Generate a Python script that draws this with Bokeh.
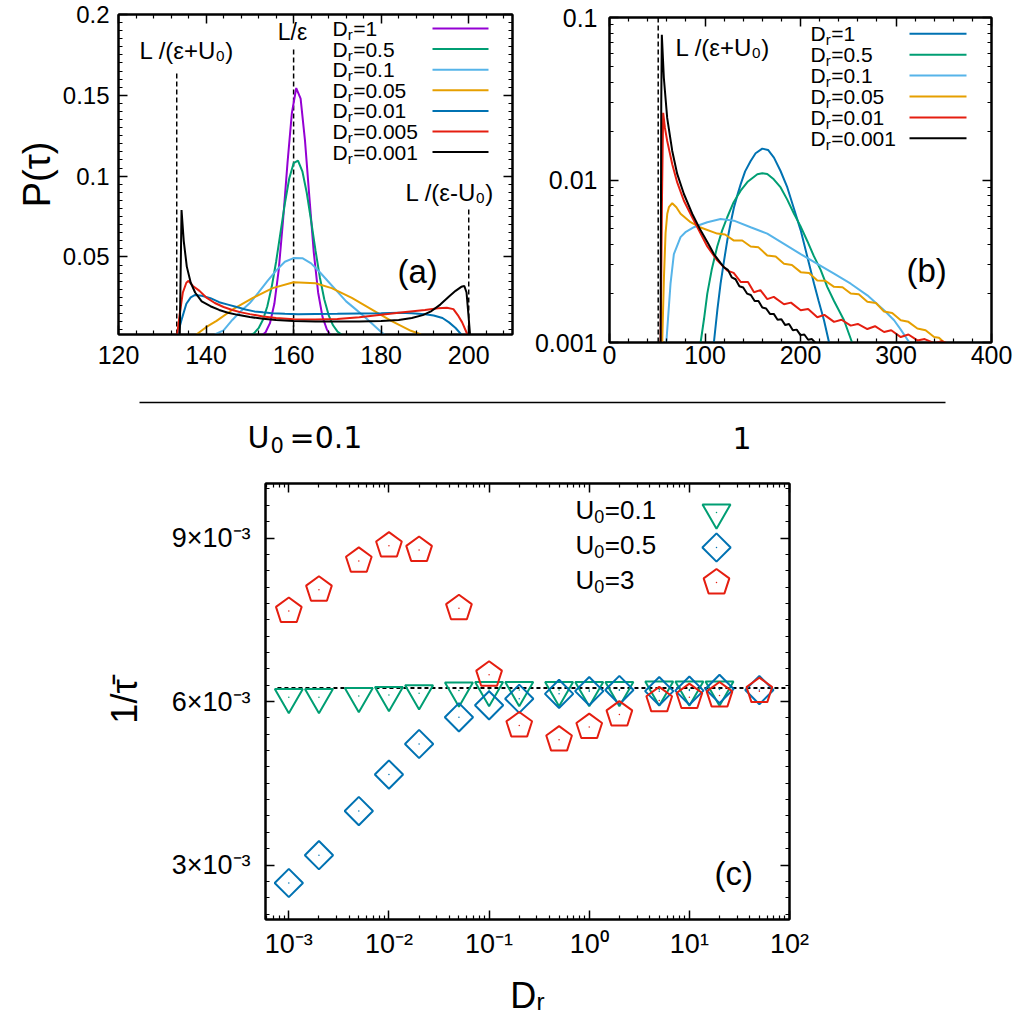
import numpy as np
from bokeh.plotting import figure
from bokeh.models import (FixedTicker, CustomJSTickFormatter, LinearAxis, LogAxis,
                          Label, Span, Range1d)
from bokeh.layouts import column, row
from bokeh.embed import file_html
from bokeh.resources import INLINE

FONT = "Liberation Sans"

# ---------------- panel (a): U0 = 0.1, P(tau) on linear axes ----------------
a_dr_text = ["1", "0.5", "0.1", "0.05", "0.01", "0.005", "0.001"]
a_colors = ["#9400d3", "#009e73", "#56b4e9", "#e69f00", "#0072b2", "#e51e10", "#000000"]

a_tau_1 = [152.6, 153.6, 154.6, 155.6, 156.6, 157.6, 158.6, 159.6, 160.6, 161.6, 162.6,
           163.6, 164.6, 165.6, 166.6, 167.6, 168.4]
a_p_1 = [0.0011, 0.0034, 0.009, 0.021, 0.042, 0.073, 0.108, 0.139, 0.1545, 0.148, 0.122,
         0.087, 0.053, 0.028, 0.0129, 0.0051, 0.0017]

a_tau_05 = [150, 151, 152, 153, 154, 155, 156, 157, 158, 159, 160, 161, 162, 163, 164,
            165, 166, 167, 168, 169, 170, 171]
a_p_05 = [0.0013, 0.0029, 0.0059, 0.0111, 0.0195, 0.0315, 0.047, 0.065, 0.083, 0.0985,
          0.108, 0.1096, 0.103, 0.0897, 0.0723, 0.054, 0.0373, 0.0238, 0.014, 0.0077,
          0.0039, 0.0018]

a_tau_01 = [142, 144, 146, 148, 150, 152, 154, 156, 158, 160, 162, 164, 166, 168, 170,
            172, 174, 176, 178, 180, 181]
a_p_01 = [0.002, 0.0045, 0.011, 0.0165, 0.0215, 0.028, 0.035, 0.0415, 0.047, 0.0493,
          0.0492, 0.046, 0.0405, 0.0345, 0.0285, 0.0225, 0.018, 0.0135, 0.0085, 0.0035,
          0.0015]

a_tau_005 = [137.8, 140, 142.4, 146.1, 150.7, 155.2, 160, 165, 168.7, 173.3, 177.8,
             182.3, 186.8, 189.1]
a_p_005 = [0.002, 0.0065, 0.0104, 0.0175, 0.0246, 0.0307, 0.0343, 0.0337, 0.0307,
           0.0246, 0.0175, 0.0104, 0.0043, 0.002]

a_tau_001 = [133.5, 134.5, 135.5, 136.5, 137.5, 139, 141, 143, 145, 147, 149, 151, 153,
             155, 158, 161, 165, 170, 175, 180, 184, 187, 190, 192, 194, 195.5, 197, 198.3]
a_p_001 = [0.002, 0.012, 0.021, 0.025, 0.0265, 0.026, 0.0245, 0.022, 0.0205, 0.019,
           0.0175, 0.0163, 0.0157, 0.0152, 0.0148, 0.0146, 0.0147, 0.0148, 0.015, 0.0152,
           0.0154, 0.0152, 0.0145, 0.0138, 0.0122, 0.0095, 0.006, 0.002]

a_tau_0005 = [133.4, 134, 134.7, 135.5, 136, 137, 138.5, 140, 142, 144, 146, 148, 150,
              153, 156, 160, 165, 170, 175, 180, 185, 190, 193, 195, 196.5, 197.5, 198.5,
              199.7]
a_p_0005 = [0.002, 0.015, 0.028, 0.034, 0.0352, 0.032, 0.029, 0.025, 0.0215, 0.019,
            0.0172, 0.0157, 0.0146, 0.0132, 0.0122, 0.0115, 0.0113, 0.0116, 0.0127,
            0.0142, 0.0157, 0.0172, 0.0182, 0.0185, 0.0177, 0.014, 0.0095, 0.002]

a_tau_0001 = [134.0, 134.4, 134.9, 135.6, 136.5, 137.5, 139, 141, 143, 145, 147.5, 150,
              153, 156, 160, 165, 170, 175, 180, 184, 187, 189.5, 191.5, 193.5, 195.5,
              197, 198.3, 199, 199.5, 200, 200.3]
a_p_0001 = [0.002, 0.079, 0.06, 0.044, 0.034, 0.028, 0.0225, 0.0195, 0.0172, 0.0155,
            0.014, 0.0128, 0.0117, 0.011, 0.0103, 0.0101, 0.01, 0.0101, 0.0104, 0.011,
            0.0122, 0.014, 0.0165, 0.0205, 0.0255, 0.029, 0.0315, 0.032, 0.028, 0.012,
            0.002]

a_series = [(a_tau_1, a_p_1), (a_tau_05, a_p_05), (a_tau_01, a_p_01),
            (a_tau_005, a_p_005), (a_tau_001, a_p_001), (a_tau_0005, a_p_0005),
            (a_tau_0001, a_p_0001)]

# characteristic times L/(eps+U0), L/eps, L/(eps-U0)
a_marks_tau = [133.3, 160.0, 200.0]

# ---------------- panel (b): U0 = 1, log P(tau) ----------------
b_dr_text = ["1", "0.5", "0.1", "0.05", "0.01", "0.001"]
b_colors = ["#0072b2", "#009e73", "#56b4e9", "#e69f00", "#e51e10", "#000000"]

b_tau_1 = [109.3, 113, 116.3, 120, 123.3, 127, 130.3, 134, 137.3, 142, 147.8, 153, 160,
           166, 172.2, 179, 186.2, 193, 200.2, 207, 214.2, 219, 224.6, 229.9]
b_p_1 = [0.001, 0.0016, 0.0023, 0.0032, 0.00424, 0.0055, 0.00678, 0.0081, 0.0094, 0.0113,
         0.0131, 0.0146, 0.0156, 0.0153, 0.01374, 0.0114, 0.009, 0.0067, 0.0049, 0.0034,
         0.0023, 0.0018, 0.00137, 0.001]

b_tau_05 = [95.4, 99, 102.4, 107, 112.8, 118, 123.3, 130, 137.3, 145, 154.8, 160, 165.2,
            172, 179.2, 186, 193.2, 200, 207.2, 214, 221.1, 228, 235.1, 245.6, 254]
b_p_05 = [0.001, 0.0014, 0.002, 0.0028, 0.0039, 0.0049, 0.0059, 0.0073, 0.0086, 0.0098,
          0.01086, 0.011, 0.0109, 0.0101, 0.009, 0.0076, 0.0062, 0.0052, 0.0042, 0.0034,
          0.0028, 0.0022, 0.0018, 0.00137, 0.001]

b_tau_01 = [59.5, 63.9, 67.4, 74.4, 80, 88.4, 95, 102.4, 116.3, 130.3, 147.8, 165.2,
            182.7, 200.2, 217.6, 235.1, 252.6, 270, 287.5, 298, 305, 314]
b_p_01 = [0.001, 0.0023, 0.0035, 0.00445, 0.0048, 0.00512, 0.0053, 0.0055, 0.00575,
          0.00562, 0.00512, 0.00468, 0.00405, 0.0035, 0.00305, 0.00265, 0.0023, 0.00195,
          0.00158, 0.00137, 0.0012, 0.001]

b_tau_005 = [55.2, 57, 58.7, 60.5, 62.2, 65.7, 70, 74.4, 84.9, 95.4, 112.8, 121, 130.3,
             139, 147.8, 156, 165.2, 174, 182.7, 191, 200.2, 209, 217.6, 226, 235.1, 244,
             252.6, 261, 270, 279, 287.5, 296, 305, 313, 322.4, 331, 339.9, 345, 350.4]
b_p_005 = [0.001, 0.0025, 0.0047, 0.0062, 0.0068, 0.0072, 0.0068, 0.0062, 0.0055, 0.0051,
           0.00468, 0.00462, 0.00424, 0.00424, 0.0039, 0.00385, 0.00343, 0.00338, 0.00305,
           0.003, 0.00271, 0.00268, 0.00241, 0.0024, 0.0022, 0.00219, 0.002, 0.00198,
           0.00178, 0.00175, 0.00155, 0.00152, 0.00137, 0.00134, 0.00122, 0.00119,
           0.00108, 0.00107, 0.001]

b_tau_001 = [53.5, 55, 56.2, 58, 60.4, 65.7, 70.9, 77.9, 86.6, 95.4, 102.4, 112.8, 123.3,
             130, 137.3, 145, 151.3, 158, 165.2, 172, 182.7, 190, 200.2, 208, 217.6, 225,
             235.1, 243, 252.6, 260, 270, 278, 287.5, 295, 305, 313, 322.4, 330, 340, 348,
             357]
b_p_001 = [0.001, 0.008, 0.0259, 0.021, 0.0174, 0.0125, 0.00966, 0.00745, 0.0059, 0.00468,
           0.0039, 0.0032, 0.00277, 0.00268, 0.00236, 0.00236, 0.00204, 0.0021, 0.00185,
           0.00191, 0.00172, 0.00176, 0.00158, 0.00161, 0.00143, 0.00148, 0.00134, 0.00138,
           0.00127, 0.0013, 0.00121, 0.00126, 0.00116, 0.00119, 0.00108, 0.00112, 0.00103,
           0.00105, 0.00099, 0.00102, 0.00097]

b_tau_0001 = [53.5, 54.2, 54.8, 56.9, 60.4, 65.7, 70.9, 77.9, 86.6, 95.4, 103, 109.3, 116,
              120, 124, 128, 132, 136, 140, 144, 148, 152, 156, 160, 164, 168, 172, 176,
              180, 184, 188, 192, 196, 200, 204, 208, 212, 216, 221]
b_p_0001 = [0.001, 0.03, 0.0783, 0.0426, 0.0241, 0.0151, 0.0109, 0.0082, 0.0062, 0.0049,
            0.0041, 0.0035, 0.0031, 0.0029, 0.0028, 0.00252, 0.00245, 0.00222, 0.00218,
            0.002, 0.00196, 0.0018, 0.0018, 0.00164, 0.00162, 0.0015, 0.0015, 0.00138,
            0.00139, 0.00128, 0.0013, 0.00119, 0.0012, 0.00111, 0.00112, 0.00104, 0.00105,
            0.00099, 0.00097]

b_series = [(b_tau_1, b_p_1), (b_tau_05, b_p_05), (b_tau_01, b_p_01),
            (b_tau_005, b_p_005), (b_tau_001, b_p_001), (b_tau_0001, b_p_0001)]

b_mark_tau = 51.0

# ---------------- panel (c): mean rate 1/tau vs D_r ----------------
c_dr = [0.001, 0.002, 0.005, 0.01, 0.02, 0.05, 0.1, 0.2, 0.5, 1, 2, 5, 10, 20, 50]
c_u01 = [6.08e-3, 6.08e-3, 6.10e-3, 6.12e-3, 6.15e-3, 6.20e-3, 6.21e-3, 6.21e-3,
         6.21e-3, 6.21e-3, 6.21e-3, 6.22e-3, 6.22e-3, 6.22e-3]
c_u05 = [2.67e-3, 3.18e-3, 3.99e-3, 4.66e-3, 5.22e-3, 5.71e-3, 5.93e-3, 6.05e-3,
         6.14e-3, 6.19e-3, 6.21e-3, 6.19e-3, 6.20e-3, 6.23e-3, 6.21e-3]
c_u3 = [7.66e-3, 8.05e-3, 8.58e-3, 8.86e-3, 8.78e-3, 7.71e-3, 6.49e-3, 5.56e-3,
        5.30e-3, 5.53e-3, 5.76e-3, 6.02e-3, 6.08e-3, 6.11e-3, 6.19e-3]
c_u0_text = ["0.1", "0.5", "3"]
c_colors = ["#009e73", "#0072b2", "#e51e10"]
c_ballistic_rate = 1.0 / 160.0
c_flat_dr = [7.7e-4, 100.0]


# ---------------- helpers ----------------
def make_fig(width, height, x_range, y_range, left, right, top, bottom,
             x_type="linear", y_type="linear"):
    p = figure(width=width, height=height, x_range=x_range, y_range=y_range,
               x_axis_type=x_type, y_axis_type=y_type,
               output_backend="svg", toolbar_location=None,
               min_border_left=left, min_border_right=right,
               min_border_top=top, min_border_bottom=bottom)
    if "frame_align" in p.properties():
        p.frame_align = False
    p.grid.visible = False
    p.outline_line_color = "black"
    p.outline_line_width = 2
    p.background_fill_color = "white"
    p.border_fill_color = "white"
    return p


def style_axis(ax, ticks, minor, code, standoff, font_size="25px", labels=True):
    ax.ticker = FixedTicker(ticks=ticks, minor_ticks=minor)
    ax.formatter = CustomJSTickFormatter(code=code if labels else "return '';")
    ax.axis_line_color = "black"
    ax.axis_line_width = 2
    ax.major_tick_in = 9
    ax.major_tick_out = 0
    ax.minor_tick_in = 4
    ax.minor_tick_out = 0
    ax.major_tick_line_color = "black"
    ax.major_tick_line_width = 1.5
    ax.minor_tick_line_color = "black"
    ax.minor_tick_line_width = 1.2
    ax.major_label_text_font = FONT
    ax.major_label_text_font_size = font_size if labels else "0px"
    ax.major_label_text_color = "black"
    ax.major_label_standoff = standoff if labels else 0
    ax.axis_label_text_font = FONT
    ax.axis_label_text_font_style = "normal"
    ax.axis_label_text_color = "black"


def add_mirrors(p, xcls, ycls, xt, xm, yt, ym):
    top = xcls()
    style_axis(top, xt, xm, "", 0, labels=False)
    p.add_layout(top, "above")
    right = ycls()
    style_axis(right, yt, ym, "", 0, labels=False)
    p.add_layout(right, "right")


def label(p, x, y, text, size, align="left", font=FONT):
    p.add_layout(Label(x=x, y=y, text=text, text_font=font, text_font_size=size,
                       text_align=align, text_baseline="middle", text_color="black"))


# advance widths (em) of the Liberation Sans glyphs used in subscripted labels
EM = {"D": 0.722, "U": 0.722, "r": 0.333, "0": 0.556}


def sub_label(p, fx, fy, x_px, y_px, head, sub, tail, size, sub_size, drop):
    """Write head, a lowered smaller sub and tail, laid out in frame pixels."""
    x1 = x_px + EM[head] * size
    x2 = x1 + EM[sub] * sub_size + 0.5
    label(p, fx(x_px), fy(y_px), head, f"{size}px")
    label(p, fx(x1), fy(y_px + drop), sub, f"{sub_size}px")
    label(p, fx(x2), fy(y_px), tail, f"{size}px")


PLAIN = "return tick.toString();"

# ---------------- panel (a) ----------------
A_L, A_T, A_W, A_H = 118, 14, 394, 320
A_X0, A_X1, A_Y0, A_Y1 = 120, 210, 0.002, 0.2
pa = make_fig(530, 380, Range1d(A_X0, A_X1), Range1d(A_Y0, A_Y1), A_L, 18, A_T, 46)


def ax_(px):
    return A_X0 + (px - A_L) * (A_X1 - A_X0) / A_W


def ay_(py):
    return A_Y0 + (A_T + A_H - py) * (A_Y1 - A_Y0) / A_H


a_xt = [120, 140, 160, 180, 200]
a_xm = [v for v in range(124, 211, 4) if v not in a_xt]
a_yt = [0.05, 0.1, 0.15, 0.2]
a_ym = [round(0.005 * k, 3) for k in range(1, 41) if k % 10]
style_axis(pa.xaxis[0], a_xt, a_xm, PLAIN, 11)
style_axis(pa.yaxis[0], a_yt, a_ym, PLAIN, 9, font_size="24px")
pa.yaxis[0].axis_label = "P(τ)"
pa.yaxis[0].axis_label_text_font_size = "38px"
pa.yaxis[0].axis_label_standoff = 2
add_mirrors(pa, LinearAxis, LinearAxis, a_xt, a_xm, a_yt, a_ym)

a_mark_tops = [70, 46, 209]
for t, top in zip(a_marks_tau, a_mark_tops):
    pa.segment(x0=t, y0=A_Y0, x1=t, y1=ay_(top), line_color="black",
               line_width=1.5, line_dash="5 3")

for (tau, prob), col in zip(a_series, a_colors):
    pa.line(tau, prob, line_color=col, line_width=2)

for i, (txt, col) in enumerate(zip(a_dr_text, a_colors)):
    yrow = 28 + 20.6 * i
    sub_label(pa, ax_, ay_, 332, yrow, "D", "r", "=" + txt, 21, 15, 6)
    pa.line([ax_(432), ax_(488)], [ay_(yrow), ay_(yrow)], line_color=col, line_width=2)

label(pa, ax_(139), ay_(50), "L /(ε+U₀)", "24px")
label(pa, ax_(292), ay_(31), "L/ε", "23px", align="center")
label(pa, ax_(405), ay_(192), "L /(ε-U₀)", "24px")
label(pa, ax_(397), ay_(271), "(a)", "33px")

# ---------------- panel (b) ----------------
B_OFF = 530
B_L, B_T, B_W, B_H = 609 - B_OFF, 17, 382, 325
B_X0, B_X1, B_Y0, B_Y1 = 0, 400, 0.001, 0.1
pb = make_fig(485, 380, Range1d(B_X0, B_X1), Range1d(B_Y0, B_Y1), B_L, 24, B_T, 38,
              y_type="log")


def bx_(px):
    return B_X0 + (px - 609) * (B_X1 - B_X0) / B_W


def by_(py):
    return 10 ** (np.log10(B_Y0) + (B_T + B_H - py) * 2.0 / B_H)


b_xt = [0, 100, 200, 300, 400]
b_xm = [v for v in range(20, 400, 20) if v % 100]
b_yt = [0.001, 0.01, 0.1]
b_ym = [m * 10.0 ** e for e in (-3, -2) for m in range(2, 10)]
style_axis(pb.xaxis[0], b_xt, b_xm, PLAIN, 3)
style_axis(pb.yaxis[0], b_yt, b_ym, PLAIN, 12)
add_mirrors(pb, LinearAxis, LogAxis, b_xt, b_xm, b_yt, b_ym)

pb.add_layout(Span(location=b_mark_tau, dimension="height", line_color="black",
                   line_width=1.5, line_dash="5 3"))

for (tau, prob), col in zip(b_series, b_colors):
    pb.line(tau, prob, line_color=col, line_width=2)

for i, (txt, col) in enumerate(zip(b_dr_text, b_colors)):
    yrow = 33.3 + 20.9 * i
    sub_label(pb, bx_, by_, 810, yrow, "D", "r", "=" + txt, 21, 15, 6)
    pb.line([bx_(909), bx_(966)], [by_(yrow), by_(yrow)], line_color=col, line_width=2)

label(pb, bx_(675), by_(47), "L /(ε+U₀)", "24px")
label(pb, bx_(906), by_(270), "(b)", "33px")

# ---------------- divider between the rows ----------------
pm = figure(width=1015, height=90, x_range=Range1d(0, 1015), y_range=Range1d(90, 0),
            output_backend="svg", toolbar_location=None,
            min_border_left=0, min_border_right=0, min_border_top=0, min_border_bottom=0)
if "frame_align" in pm.properties():
    pm.frame_align = False
pm.axis.visible = False
pm.grid.visible = False
pm.outline_line_color = None
pm.line([139, 945], [22, 22], line_color="black", line_width=1.5)
label(pm, 247, 57, "U", "30px", font="DejaVu Sans")
label(pm, 270, 64, "0", "21px", font="DejaVu Sans")
label(pm, 289, 57, "=0.1", "30px", font="DejaVu Sans")
label(pm, 732, 57, "1", "30px", font="DejaVu Sans")

# ---------------- panel (c) ----------------
C_OFF = 470
C_L, C_T, C_W, C_H = 265, 483 - C_OFF, 524, 436
C_X0, C_X1, C_Y0, C_Y1 = 5.85e-4, 100.0, 0.002, 0.010
pc = make_fig(1015, 550, Range1d(C_X0, C_X1), Range1d(C_Y0, C_Y1), C_L, 226, C_T, 101,
              x_type="log")
C_PX_PER_DEC = C_W / (np.log10(C_X1) - np.log10(C_X0))
C_Y_PER_PX = (C_Y1 - C_Y0) / C_H


def cx_(px):
    return 10 ** (np.log10(C_X0) + (px - C_L) / C_PX_PER_DEC)


def cy_(py):
    return C_Y0 + (919 - py) * C_Y_PER_PX


c_xt = [1e-3, 1e-2, 1e-1, 1.0, 10.0, 100.0]
c_xm = [m * 10.0 ** e for e in range(-4, 2) for m in range(2, 10)]
c_yt = [0.003, 0.006, 0.009]
c_ym = [round(0.0003 * k, 5) for k in range(7, 34) if k % 10]
X_CODE = """
const e = Math.round(Math.log10(tick));
const sup = {'-': '\u207b', '0': '\u2070', '1': '\u00b9', '2': '\u00b2', '3': '\u00b3'};
return '10' + String(e).split('').map(c => sup[c]).join('');
"""
Y_CODE = "return Math.round(tick * 1000) + '\u00d710\u207b\u00b3';"
style_axis(pc.xaxis[0], c_xt, c_xm, X_CODE, 9, font_size="27px")
style_axis(pc.yaxis[0], c_yt, c_ym, Y_CODE, 15, font_size="27px")
pc.xaxis[0].axis_label = "Dᵣ"
pc.xaxis[0].axis_label_text_font_size = "36px"
pc.xaxis[0].axis_label_standoff = 13
pc.yaxis[0].axis_label = "1/τ̄"
pc.yaxis[0].axis_label_text_font_size = "36px"
pc.yaxis[0].axis_label_standoff = 24
add_mirrors(pc, LogAxis, LinearAxis, c_xt, c_xm, c_yt, c_ym)

pc.line(c_flat_dr, [c_ballistic_rate, c_ballistic_rate], line_color="black",
        line_width=2, line_dash="4 3")


def pentagons(xs, ys, r=13.5):
    ang = np.pi / 2 + np.arange(5) * 2 * np.pi / 5
    px, py = [], []
    for xc, yc in zip(xs, ys):
        px.append(list(10 ** (np.log10(xc) + r * np.cos(ang) / C_PX_PER_DEC)))
        py.append(list(yc + r * np.sin(ang) * C_Y_PER_PX))
    return px, py


def draw_set(p, xs, ys, kind, col):
    if kind == "tri":
        p.scatter(xs, ys, marker="inverted_triangle", size=28, fill_color=None,
                  line_color=col, line_width=2)
    elif kind == "dia":
        p.scatter(xs, ys, marker="square", angle=np.pi / 4, size=20, fill_color=None,
                  line_color=col, line_width=2)
    else:
        qx, qy = pentagons(xs, ys)
        p.patches(qx, qy, fill_color=None, line_color=col, line_width=2)
    p.scatter(xs, ys, marker="circle", size=1.5, fill_color=col, line_color=None)


draw_set(pc, c_dr[:len(c_u01)], c_u01, "tri", c_colors[0])
draw_set(pc, c_dr, c_u05, "dia", c_colors[1])
draw_set(pc, c_dr, c_u3, "pent", c_colors[2])

for i, (txt, col, kind) in enumerate(zip(c_u0_text, c_colors, ["tri", "dia", "pent"])):
    yrow = 512 + 35 * i
    sub_label(pc, cx_, cy_, 575, yrow - 3, "U", "0", "=" + txt, 26, 18, 7)
    draw_set(pc, [cx_(716)], [cy_(yrow)], kind, col)

label(pc, cx_(714), cy_(873), "(c)", "33px")

layout = column(row(pa, pb, spacing=0), pm, pc, spacing=0)
with open("out.html", "w", encoding="utf-8") as f:
    f.write(file_html(layout, INLINE, title="Residence time statistics"))
